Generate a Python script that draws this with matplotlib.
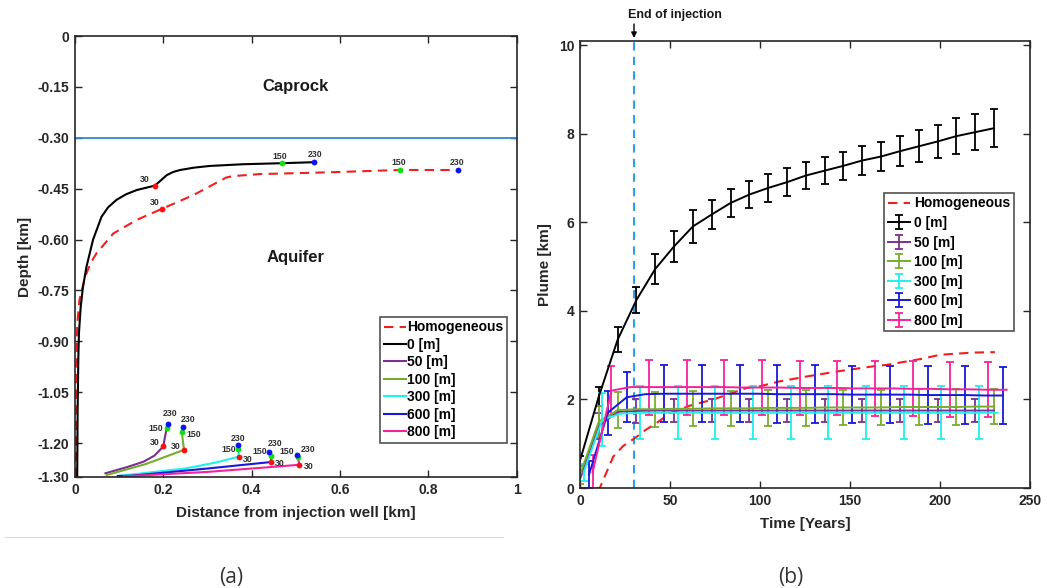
import numpy as np
import matplotlib
matplotlib.use("Agg")
import matplotlib.pyplot as plt
from matplotlib.lines import Line2D

plt.rcParams['font.family'] = ['Liberation Sans', 'DejaVu Sans']
plt.rcParams['font.weight'] = 'bold'

# ---------------- data: panel (a) ----------------
hom_x = [0.002, 0.003, 0.005, 0.010, 0.023, 0.035, 0.049, 0.087, 0.140, 0.196, 0.268,
         0.343, 0.358, 0.419, 0.570, 0.735, 0.867]
hom_y = [-1.30, -1.00, -0.85, -0.778, -0.71, -0.67, -0.64, -0.582, -0.542, -0.51, -0.469,
         -0.417, -0.413, -0.407, -0.402, -0.395, -0.395]
m0_x = [0.005, 0.006, 0.0075, 0.009, 0.0128, 0.018, 0.026, 0.041, 0.060, 0.075, 0.094, 0.115,
        0.140, 0.181, 0.195, 0.208, 0.222, 0.238, 0.270, 0.306, 0.381, 0.468, 0.541]
m0_y = [-1.30, -1.10, -0.95, -0.875, -0.80, -0.74, -0.68, -0.60, -0.533, -0.505, -0.483, -0.467,
        -0.454, -0.441, -0.425, -0.41, -0.401, -0.395, -0.388, -0.383, -0.378, -0.375, -0.372]
m50_x = [0.069, 0.120, 0.155, 0.180, 0.200, 0.204, 0.208, 0.211]
m50_y = [-1.289, -1.270, -1.255, -1.237, -1.210, -1.180, -1.156, -1.144]
m100_x = [0.072, 0.160, 0.247, 0.244, 0.242, 0.244]
m100_y = [-1.294, -1.262, -1.220, -1.190, -1.166, -1.154]
m300_x = [0.098, 0.250, 0.320, 0.371, 0.370, 0.370]
m300_y = [-1.297, -1.275, -1.257, -1.240, -1.218, -1.207]
m600_x = [0.097, 0.130, 0.300, 0.443, 0.445, 0.444, 0.440]
m600_y = [-1.297, -1.296, -1.275, -1.256, -1.245, -1.238, -1.227]
m800_x = [0.110, 0.300, 0.450, 0.508, 0.505, 0.503]
m800_y = [-1.298, -1.285, -1.270, -1.264, -1.242, -1.236]

# marker positions (years 30, 150, 230) for each curve
marks_hom = [(0.196, -0.51), (0.735, -0.395), (0.867, -0.395)]
marks_0 = [(0.181, -0.441), (0.468, -0.375), (0.541, -0.372)]
marks_50 = [(0.200, -1.210), (0.208, -1.156), (0.211, -1.144)]
marks_100 = [(0.247, -1.220), (0.242, -1.166), (0.244, -1.154)]
marks_300 = [(0.371, -1.240), (0.370, -1.218), (0.370, -1.207)]
marks_600 = [(0.443, -1.256), (0.444, -1.238), (0.440, -1.227)]
marks_800 = [(0.508, -1.264), (0.505, -1.242), (0.503, -1.236)]
mark_years = ['30', '150', '230']

# ---------------- data: panel (b) ----------------
t_base = np.linspace(0, 230, 23)
hom_t = [0, 11, 13, 18.5, 24, 30.6, 36, 42.6, 50, 61, 74, 92.6, 100, 111, 126, 144, 163,
         170, 181.5, 190, 200, 218.5, 230.5]
hom_v = [0, 0, 0.19, 0.71, 0.95, 1.13, 1.30, 1.47, 1.69, 1.86, 2.00, 2.26, 2.30, 2.41, 2.52,
         2.64, 2.75, 2.78, 2.86, 2.92, 3.01, 3.06, 3.07]
p0 = [0.62, 2.07, 3.35, 4.25, 4.95, 5.46, 5.91, 6.18, 6.44, 6.63, 6.78, 6.91, 7.06, 7.17,
      7.28, 7.40, 7.49, 7.61, 7.72, 7.83, 7.95, 8.04, 8.13]
e0 = [0.10, 0.22, 0.28, 0.30, 0.33, 0.35, 0.37, 0.33, 0.32, 0.31, 0.31, 0.31, 0.31, 0.31,
      0.31, 0.32, 0.33, 0.34, 0.36, 0.38, 0.40, 0.41, 0.43]
p50 = [0.20, 1.40, 1.72, 1.74] + [1.75] * 19
e50 = [0.20, 0.30] + [0.27] * 21
p100 = [0.30, 1.50, 1.76, 1.78, 1.78, 1.79, 1.79, 1.80, 1.80, 1.80, 1.81, 1.81, 1.81, 1.82,
        1.82, 1.82, 1.82, 1.83, 1.83, 1.83, 1.83, 1.84, 1.84]
e100 = [0.20, 0.35] + [0.40] * 21
p300 = [0.35, 1.55, 1.68] + [1.70] * 20
e300 = [0.20, 0.60] + [0.60] * 21
p600 = [0.30, 1.70, 2.05, 2.12, 2.13, 2.13, 2.13, 2.13, 2.13, 2.13, 2.12, 2.12, 2.12, 2.12,
        2.11, 2.11, 2.11, 2.11, 2.10, 2.10, 2.10, 2.09, 2.09]
e600 = [0.30, 0.50, 0.56] + [0.65] * 20
p800 = [0.35, 2.20, 2.28, 2.28, 2.28, 2.28, 2.28, 2.28, 2.27, 2.27, 2.27, 2.26, 2.26, 2.26,
        2.25, 2.25, 2.25, 2.24, 2.24, 2.23, 2.23, 2.22, 2.22]
e800 = [0.40, 0.55] + [0.62] * 21
shift = {'50': 0.0, '100': 0.0, '300': 2.0, '600': 5.0, '800': 7.0}
odd_idx = [0, 1] + list(range(3, 23, 2))
even_idx = [0, 1] + list(range(2, 23, 2))

C_PUR = '#7E2F8E'
C_GRN = '#77AC30'
C_CYN = '#1FF0F0'
C_BLU = '#1818D8'
C_MAG = '#F5239A'
C_RED = '#F02020'

W, H = 1047, 588
fig = plt.figure(figsize=(W / 100, H / 100), dpi=100)

def ax_rect(l, t, r, b):
    return [l / W, 1 - b / H, (r - l) / W, (b - t) / H]

axc = '#262626'

def style(ax):
    ax.tick_params(direction='in', top=True, right=True, length=5, width=1.0,
                   labelsize=10, colors=axc, pad=4)
    for s in ax.spines.values():
        s.set_linewidth(1.2)
        s.set_color(axc)
    for lbl in ax.get_xticklabels() + ax.get_yticklabels():
        lbl.set_fontweight('bold')

# ---------------- panel (a) ----------------
axa = fig.add_axes(ax_rect(75, 36, 516.5, 477))
lw = 1.5
axa.axhline(-0.30, color='#2E8BC8', lw=1.3)
axa.plot(hom_x, hom_y, color=C_RED, lw=1.5, dashes=(4.5, 3), label='Homogeneous')
axa.plot(m0_x, m0_y, color='k', lw=lw, label='0 [m]')
axa.plot(m50_x, m50_y, color=C_PUR, lw=lw, label='50 [m]')
axa.plot(m100_x, m100_y, color=C_GRN, lw=lw, label='100 [m]')
axa.plot(m300_x, m300_y, color=C_CYN, lw=lw, label='300 [m]')
axa.plot(m600_x, m600_y, color=C_BLU, lw=lw, label='600 [m]')
axa.plot(m800_x, m800_y, color=C_MAG, lw=lw, label='800 [m]')

mk_cols = ['#FF1010', '#10E010', '#1010FF']
label_offsets = {
    'hom': [(-7, 7), (-1, 7), (-1, 7)],
    '0': [(-10, 6), (-2, 7), (1, 8)],
    '50': [(-9, 4), (-11, 0), (2, 11)],
    '100': [(-8, 3), (12, -3), (5, 8)],
    '300': [(9, -3), (-10, 0), (0, 7)],
    '600': [(9, -1), (-11, 4), (6, 9)],
    '800': [(9, -2), (-11, 6), (11, 6)],
}
all_marks = {'hom': marks_hom, '0': marks_0, '50': marks_50, '100': marks_100,
             '300': marks_300, '600': marks_600, '800': marks_800}
for key, marks in all_marks.items():
    for i, (mx, my) in enumerate(marks):
        axa.plot([mx], [my], 'o', color=mk_cols[i], ms=4.2, mec='none', zorder=5)
        dx, dy = label_offsets[key][i]
        axa.annotate(mark_years[i], (mx, my), xytext=(dx, dy), textcoords='offset pixels',
                     ha='center', va='center', fontsize=6.3, fontweight='bold', color='#303030')

axa.text(0.5, -0.148, 'Caprock', ha='center', va='center', fontsize=12, fontweight='bold', color='#1a1a1a')
axa.text(0.5, -0.654, 'Aquifer', ha='center', va='center', fontsize=12, fontweight='bold', color='#1a1a1a')

axa.set_xlim(0, 1)
axa.set_ylim(-1.30, 0)
axa.set_xticks([0, 0.2, 0.4, 0.6, 0.8, 1])
axa.set_xticklabels(['0', '0.2', '0.4', '0.6', '0.8', '1'])
yt = [0, -0.15, -0.30, -0.45, -0.60, -0.75, -0.90, -1.05, -1.20, -1.30]
axa.set_yticks(yt)
axa.set_yticklabels(['0', '-0.15', '-0.30', '-0.45', '-0.60', '-0.75', '-0.90', '-1.05', '-1.20', '-1.30'])
style(axa)
axa.set_xlabel('Distance from injection well [km]', fontsize=11, fontweight='bold', color=axc, labelpad=7)
axa.set_ylabel('Depth [km]', fontsize=11, fontweight='bold', color=axc, labelpad=4)
leg = axa.legend(loc='upper left', bbox_to_anchor=(0.691, 0.363), borderaxespad=0,
                 fontsize=10, handlelength=1.6, handletextpad=0.1, labelspacing=0.25,
                 borderpad=0.25, frameon=True, fancybox=False, edgecolor='#262626')
leg.get_frame().set_linewidth(1.2)
for txt in leg.get_texts():
    txt.set_fontweight('bold')

# ---------------- panel (b) ----------------
axb = fig.add_axes(ax_rect(580, 41, 1030, 488))
axb.axvline(30, color='#2FA0E0', lw=1.5, dashes=(4, 3))
hl, = axb.plot(hom_t, hom_v, color=C_RED, lw=1.5, dashes=(4.5, 3), label='Homogeneous')
capsz = 3
ebk = dict(lw=1.4, capsize=capsz, capthick=1.3, elinewidth=1.3)
h0 = axb.errorbar(t_base, p0, yerr=e0, color='k', label='0 [m]', **ebk)
h50 = axb.errorbar(t_base + shift['50'], p50, yerr=e50, color=C_PUR, errorevery=odd_idx,
                   label='50 [m]', **ebk)
h100 = axb.errorbar(t_base + shift['100'], p100, yerr=e100, color=C_GRN, errorevery=even_idx,
                    label='100 [m]', **ebk)
h300 = axb.errorbar(t_base + shift['300'], p300, yerr=e300, color=C_CYN, errorevery=odd_idx,
                    label='300 [m]', **ebk)
h600 = axb.errorbar(t_base + shift['600'], p600, yerr=e600, color=C_BLU, errorevery=even_idx,
                    label='600 [m]', **ebk)
h800 = axb.errorbar(t_base + shift['800'], p800, yerr=e800, color=C_MAG, errorevery=odd_idx,
                    label='800 [m]', **ebk)
axb.set_xlim(0, 250)
axb.set_ylim(0, 10.1)
axb.set_xticks([0, 50, 100, 150, 200, 250])
axb.set_yticks([0, 2, 4, 6, 8, 10])
style(axb)
axb.set_xlabel('Time [Years]', fontsize=11, fontweight='bold', color=axc, labelpad=7)
axb.set_ylabel('Plume [km]', fontsize=11, fontweight='bold', color=axc, labelpad=5)
legb = axb.legend(handles=[hl, h0, h50, h100, h300, h600, h800], loc='upper left',
                  bbox_to_anchor=(0.676, 0.660), borderaxespad=0, fontsize=10,
                  handlelength=1.6, handletextpad=0.3, labelspacing=0.4, borderpad=0.25,
                  frameon=True, fancybox=False, edgecolor='#262626')
legb.get_frame().set_linewidth(1.2)
for txt in legb.get_texts():
    txt.set_fontweight('bold')

axb.annotate('', xy=(634 / W, 1 - 38 / H), xytext=(634 / W, 1 - 24 / H),
             xycoords='figure fraction', textcoords='figure fraction',
             arrowprops=dict(arrowstyle='-|>', color='k', lw=1.0, mutation_scale=8,
                             shrinkA=0, shrinkB=0))
fig.text(675 / W, 1 - 15 / H, 'End of injection', ha='center', va='center', fontsize=9,
         fontweight='bold', color='#1a1a1a')

# ---------------- panel captions ----------------
fig.add_artist(Line2D([5 / W, 503 / W], [1 - 537 / H, 1 - 537 / H], color='#d8d8d8', lw=0.8))
fig.text(231 / W, 1 - 577 / H, '(a)', ha='center', va='center', fontsize=15,
         fontweight='normal', family=['Open Sans', 'DejaVu Sans'], color='#333333')
fig.text(791 / W, 1 - 577 / H, '(b)', ha='center', va='center', fontsize=15,
         fontweight='normal', family=['Open Sans', 'DejaVu Sans'], color='#333333')

fig.savefig('out.png', dpi=100, facecolor='white')
